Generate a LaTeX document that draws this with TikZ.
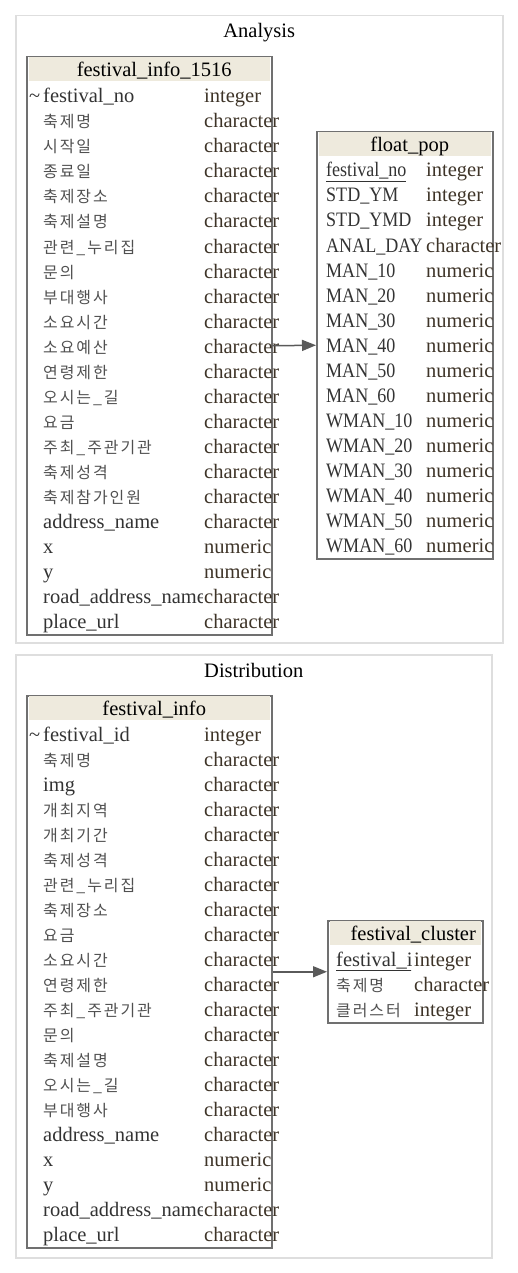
\documentclass[tikz,border=0pt]{standalone}
\usepackage{fontspec}
\setmainfont{Liberation Serif}
\newfontfamily\krfont{Noto Sans CJK KR}[Scale=0.78, LetterSpace=12]
\newfontfamily\capsfont{Liberation Serif}[FakeStretch=0.88]
\usepackage{tikz}
\usetikzlibrary{arrows.meta}
\definecolor{hdrbeige}{HTML}{EEEADD}
\definecolor{tblgray}{HTML}{707070}
\definecolor{clgray}{HTML}{DEDEDE}
\definecolor{namegray}{HTML}{333333}
\definecolor{krgray}{HTML}{505050}
\definecolor{typebrown}{HTML}{3E3428}
\definecolor{arrgray}{HTML}{5A5A5A}
\newcommand{\kr}{\krfont\color{krgray}}
\tikzstyle{cluster} =
[rectangle, anchor=north west, inner sep=0pt, draw=clgray, line width=1.5pt]
\tikzstyle{cltitle} =
[inner sep=0pt, text=black, text height=15pt, text depth=3pt]
\tikzstyle{tbl} =
[rectangle, anchor=north west, inner sep=0pt, draw=tblgray, line width=1.5pt]
\tikzstyle{hdr} =
[rectangle, anchor=north, inner sep=0pt, minimum height=24pt, fill=hdrbeige]
\tikzstyle{hdrtext} =
[inner sep=0pt, text=black, text height=15pt, text depth=3pt]
\tikzstyle{fname} =
[anchor=west, inner sep=0pt, text=namegray, text height=15pt, text depth=3pt]
\tikzstyle{ftype} =
[anchor=west, inner sep=0pt, text=typebrown, text height=15pt, text depth=3pt]
\tikzstyle{line} = [draw=arrgray, line width=1.5pt, -{Triangle[length=14pt, width=11pt]}]

\begin{document}
\begin{tikzpicture}[x=1pt, y=-1pt, font=\fontsize{20.5pt}{24pt}\selectfont]
  \useasboundingbox (0,0) rectangle (518,1273);
  % clusters
  \node [cluster, minimum width=487pt, minimum height=627pt] (analysis) at (15,15) {};
  \node [cltitle] (analysis-title) at ([yshift=-17pt]analysis.north) {Analysis};
  \node [cluster, minimum width=476pt, minimum height=603pt] (distribution) at (15,654) {};
  \node [cltitle] (distribution-title) at ([yshift=-17pt]distribution.north) {Distribution};
  %
  % festival_info_1516
  \node [tbl, minimum width=245pt, minimum height=578pt] (fi1516) at (26,56) {};
  \node [hdr, minimum width=241pt] (fi1516-hdr) at ([yshift=-1pt]fi1516.north) {};
  \node [hdrtext] (fi1516-title) at ([xshift=5pt, yshift=-1pt]fi1516-hdr.center) {festival\_info\_1516};
  \node [fname] (fi1516-key) at (29,97) {\textasciitilde};
  \foreach \fn/\ft [count=\i from 0] in {festival\_no/integer, {\kr 축제명}/character,
    {\kr 시작일}/character, {\kr 종료일}/character, {\kr 축제장소}/character,
    {\kr 축제설명}/character, {\kr 관련\_누리집}/character, {\kr 문의}/character,
    {\kr 부대행사}/character, {\kr 소요시간}/character, {\kr 소요예산}/character,
    {\kr 연령제한}/character, {\kr 오시는\_길}/character, {\kr 요금}/character,
    {\kr 주최\_주관기관}/character, {\kr 축제성격}/character, {\kr 축제참가인원}/character,
    address\_name/character, x/numeric, y/numeric,
    road\_address\_name/character, place\_url/character} {
    \begin{scope}
      \clip (27,{84+25*\i}) rectangle (202,{110+25*\i});
      \node [fname] (fi1516-n\i) at (43,{97+25*\i}) {\fn};
    \end{scope}
    \node [ftype] (fi1516-t\i) at (204,{97+25*\i}) {\ft};
  }
  %
  % float_pop
  \node [tbl, minimum width=176pt, minimum height=427pt] (floatpop) at (316,131) {};
  \node [hdr, minimum width=172pt] (floatpop-hdr) at ([yshift=-1pt]floatpop.north) {};
  \node [hdrtext] (floatpop-title) at ([xshift=5pt, yshift=-1pt]floatpop-hdr.center) {float\_pop};
  \foreach \fn/\ft [count=\i from 0] in {\underline{festival\_no}/integer,
    STD\_YM/integer, STD\_YMD/integer, ANAL\_DAY/character,
    MAN\_10/numeric, MAN\_20/numeric, MAN\_30/numeric, MAN\_40/numeric,
    MAN\_50/numeric, MAN\_60/numeric, WMAN\_10/numeric, WMAN\_20/numeric,
    WMAN\_30/numeric, WMAN\_40/numeric, WMAN\_50/numeric, WMAN\_60/numeric} {
    \begin{scope}
      \clip (317,{158+25*\i}) rectangle (425.5,{184+25*\i});
      \node [fname, font=\capsfont\fontsize{20.5pt}{24pt}\selectfont] (floatpop-n\i)
        at (326,{171+25*\i}) {\fn};
    \end{scope}
    \node [ftype] (floatpop-t\i) at (426,{171+25*\i}) {\ft};
  }
  %
  % festival_info
  \node [tbl, minimum width=245pt, minimum height=552pt] (finfo) at (26,695) {};
  \node [hdr, minimum width=241pt] (finfo-hdr) at ([yshift=-1pt]finfo.north) {};
  \node [hdrtext] (finfo-title) at ([xshift=5pt, yshift=-1pt]finfo-hdr.center) {festival\_info};
  \node [fname] (finfo-key) at (29,735) {\textasciitilde};
  \foreach \fn/\ft [count=\i from 0] in {festival\_id/integer, {\kr 축제명}/character,
    img/character, {\kr 개최지역}/character, {\kr 개최기간}/character,
    {\kr 축제성격}/character, {\kr 관련\_누리집}/character, {\kr 축제장소}/character,
    {\kr 요금}/character, {\kr 소요시간}/character, {\kr 연령제한}/character,
    {\kr 주최\_주관기관}/character, {\kr 문의}/character, {\kr 축제설명}/character,
    {\kr 오시는\_길}/character, {\kr 부대행사}/character,
    address\_name/character, x/numeric, y/numeric,
    road\_address\_name/character, place\_url/character} {
    \begin{scope}
      \clip (27,{722+25*\i}) rectangle (202,{748+25*\i});
      \node [fname] (finfo-n\i) at (43,{735+25*\i}) {\fn};
    \end{scope}
    \node [ftype] (finfo-t\i) at (204,{735+25*\i}) {\ft};
  }
  %
  % festival_cluster
  \node [tbl, minimum width=155pt, minimum height=102pt] (fcluster) at (327,920) {};
  \node [hdr, minimum width=151pt] (fcluster-hdr) at ([yshift=-1pt]fcluster.north) {};
  \node [hdrtext] (fcluster-title) at ([xshift=8pt, yshift=-1pt]fcluster-hdr.center) {festival\_cluster};
  \foreach \fn/\ft [count=\i from 0] in {\underline{festival\_id}/integer,
    {\kr 축제명}/character, {\kr 클러스터}/integer} {
    \begin{scope}
      \clip (328,{947+25*\i}) rectangle (411,{973+25*\i});
      \node [fname] (fcluster-n\i) at (336,{960+25*\i}) {\fn};
    \end{scope}
    \node [ftype] (fcluster-t\i) at (414,{960+25*\i}) {\ft};
  }
  %
  % edges
  \path [line] (fi1516.east) -- (floatpop.west);
  \path [line] (finfo.east) -- (fcluster.west);
\end{tikzpicture}
\end{document}
